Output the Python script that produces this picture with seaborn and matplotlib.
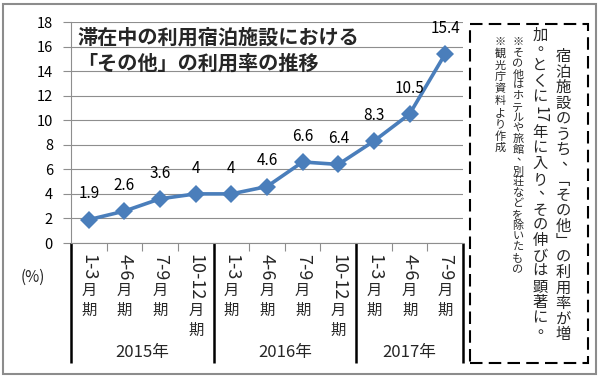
import numpy as np
import pandas as pd
import matplotlib
matplotlib.use("Agg")
import matplotlib.pyplot as plt
import seaborn as sns
from matplotlib.patches import Rectangle
from matplotlib.transforms import blended_transform_factory

# データ
years = ["2015年", "2016年", "2017年"]
quarters = ["1-3", "4-6", "7-9", "10-12", "1-3", "4-6", "7-9", "10-12", "1-3", "4-6", "7-9"]
quarter_year = [0, 0, 0, 0, 1, 1, 1, 1, 2, 2, 2]
rates = [1.9, 2.6, 3.6, 4, 4, 4.6, 6.6, 6.4, 8.3, 10.5, 15.4]

title_lines = ["滞在中の利用宿泊施設における", "「その他」の利用率の推移"]
comment_lines = ["宿泊施設のうち、「その他」の利用率が増", "加。とくに17年に入り、その伸びは顕著に。"]
note_lines = ["※その他はホテルや旅館、別荘などを除いたもの", "※観光庁資料より作成"]

W, H = 600, 378
blue = "#4A7EBB"
grid_gray = "#8E8E8E"

sns.set_theme(style="white")
plt.rcParams["font.family"] = ["Noto Sans CJK JP", "DejaVu Sans"]

fig = plt.figure(figsize=(W / 100, H / 100), dpi=100)
ax = fig.add_axes([71 / W, 1 - 243 / H, (463 - 71) / W, (243 - 22) / H])

df = pd.DataFrame({"pos": np.arange(len(rates)), "rate": rates})
sns.lineplot(data=df, x="pos", y="rate", ax=ax, color=blue, linewidth=2.6,
             marker="D", markersize=9, markeredgewidth=0)

ax.set_xlim(-0.5, len(rates) - 0.5)
ax.set_ylim(0, 18)
ax.set_yticks(range(0, 19, 2))
ax.set_xticks(np.arange(-0.5, len(rates), 1))
ax.set_xticklabels([])
ax.set_xlabel("")
ax.set_ylabel("")
ax.grid(axis="y", color=grid_gray, linewidth=0.8)
ax.set_axisbelow(True)
for s in ["top", "right"]:
    ax.spines[s].set_visible(False)
for s in ["left", "bottom"]:
    ax.spines[s].set_color(grid_gray)
    ax.spines[s].set_linewidth(0.8)
ax.tick_params(axis="y", left=True, length=6, width=0.8, color=grid_gray, pad=7,
               labelsize=10.5, labelcolor="black")
ax.tick_params(axis="x", bottom=True, length=6, width=0.8, color=grid_gray, labelbottom=False)

# データラベル
for i, v in enumerate(rates):
    ax.annotate(f"{v:g}", (i, v), xytext=(0, 18.5), textcoords="offset points",
                ha="center", va="center", fontsize=11, color="black")

# 横軸ラベル（縦書き）
px2pt = 72 / 100
rot_labels = []
for i, q in enumerate(quarters):
    t = ax.annotate(q, xy=(i, 0), xycoords=("data", "axes fraction"),
                    xytext=(0, -11 * px2pt), textcoords="offset points",
                    rotation=-90, ha="center", va="top", fontsize=13)
    rot_labels.append(t)

fig.canvas.draw()
renderer = fig.canvas.get_renderer()
for i, t in enumerate(rot_labels):
    bb = t.get_window_extent(renderer)
    end_px = 11 + bb.height
    for k, ch in enumerate("月期"):
        ax.annotate(ch, xy=(i, 0), xycoords=("data", "axes fraction"),
                    xytext=(0, -(end_px + 10 + 20 * k) * px2pt), textcoords="offset points",
                    ha="center", va="center", fontsize=11)

# 年の区切り線とラベル
trans = blended_transform_factory(ax.transData, ax.transAxes)
bounds = [-0.5, 3.5, 7.5, len(rates) - 0.5]
for b in bounds:
    ax.plot([b, b], [0, -(363 - 243) / 221], transform=trans, color="black",
            linewidth=1.8, clip_on=False, solid_capstyle="butt")
for k, y in enumerate(years):
    idx = [i for i, g in enumerate(quarter_year) if g == k]
    center = (min(idx) + max(idx)) / 2
    ax.annotate(y, xy=(center, 0), xycoords=("data", "axes fraction"),
                xytext=(0, -(352 - 243) * px2pt), textcoords="offset points",
                ha="center", va="center", fontsize=12)

fig.text(33 / W, 1 - 277 / H, "(%)", ha="center", va="center", fontsize=11)

# タイトル
fig.text(77 / W, 1 - 37 / H, title_lines[0], ha="left", va="center", fontsize=14.5, fontweight="bold")
fig.text(77 / W, 1 - 63 / H, title_lines[1], ha="left", va="center", fontsize=14.5, fontweight="bold")

# 縦書き用の字形
vert_forms = {"「": "\ufe41", "」": "\ufe42"}


def vertical_text(x_px, y_px, text, size, step):
    em = size / px2pt
    tokens = []
    i = 0
    while i < len(text):
        if text[i].isascii() and text[i].isdigit():
            j = i
            while j < len(text) and text[j].isascii() and text[j].isdigit():
                j += 1
            tokens.append(text[i:j])
            i = j
        else:
            tokens.append(text[i])
            i += 1
    y = y_px
    prev_h = step
    for n, tok in enumerate(tokens):
        h = max(step, 0.62 * em * len(tok) + 2) if tok.isdigit() else step
        if n > 0:
            y += prev_h / 2 + h / 2
        prev_h = h
        dx, dy, rot = 0, 0, 0
        if tok in "、。":
            dx, dy = 0.35 * em, -0.3 * em
        elif tok.isdigit():
            rot = -90
        fig.text((x_px + dx) / W, 1 - (y + dy) / H, vert_forms.get(tok, tok),
                 ha="center", va="center", fontsize=size, rotation=rot)


vertical_text(563, 57, comment_lines[0], 11, 15.4)
vertical_text(540, 35, comment_lines[1], 11, 15.4)
vertical_text(518, 42, note_lines[0], 8, 10.8)
vertical_text(500, 42, note_lines[1], 8, 11.8)

fig.patches.append(Rectangle((470 / W, 1 - 363 / H), (588 - 470) / W, (363 - 24) / H,
                             transform=fig.transFigure, fill=False, edgecolor="black",
                             linewidth=1.5, linestyle=(0, (6, 3))))
fig.patches.append(Rectangle((3 / W, 4 / H), 593 / W, 370 / H, transform=fig.transFigure,
                             fill=False, edgecolor="#8C8C8C", linewidth=1.5))

fig.savefig("out.png", dpi=100)
